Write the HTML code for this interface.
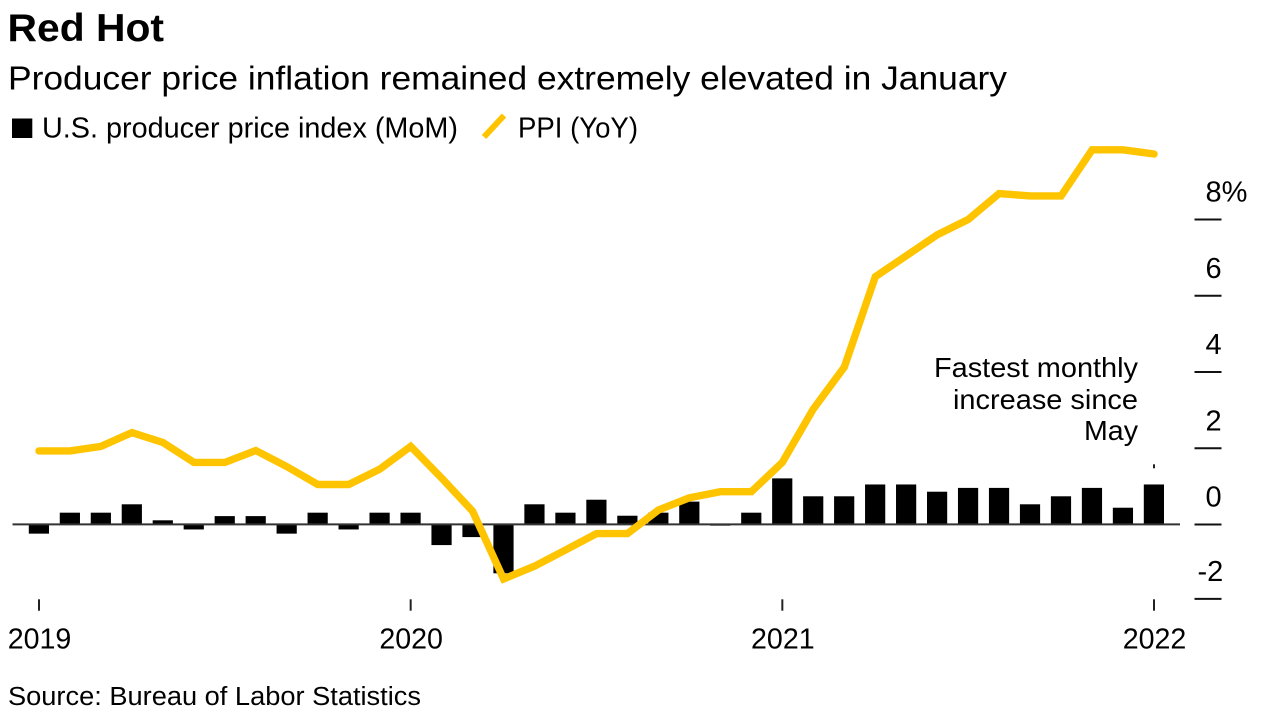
<!DOCTYPE html>
<html lang="en">
<head>
<meta charset="utf-8">
<title>Red Hot</title>
<style>
  html, body { margin: 0; padding: 0; background: #fff; }
  svg { display: block; }
  text { font-family: "Liberation Sans", Arial, sans-serif; fill: #000; }
</style>
</head>
<body>
<svg id="chart" xmlns="http://www.w3.org/2000/svg" width="1266" height="724" viewBox="0 0 1266 724">
  <text x="7.5" y="41" font-size="39" font-weight="700" textLength="156.5" lengthAdjust="spacingAndGlyphs">Red Hot</text>
  <text x="8" y="89.5" font-size="33" textLength="999" lengthAdjust="spacingAndGlyphs">Producer price inflation remained extremely elevated in January</text>
  <g>
    <rect x="12" y="118.5" width="20.3" height="19.5" fill="#000"/>
    <text x="42" y="137.5" font-size="28.5" textLength="416" lengthAdjust="spacingAndGlyphs">U.S. producer price index (MoM)</text>
    <line x1="484" y1="137" x2="504" y2="115.5" stroke="#ffc400" stroke-width="6"/>
    <text x="518" y="137.5" font-size="28.5" textLength="120" lengthAdjust="spacingAndGlyphs">PPI (YoY)</text>
  </g>
  <g id="bars"></g>
  <line x1="12.5" y1="524.4" x2="1180" y2="524.4" stroke="#333" stroke-width="2"/>
  <path id="yoy-line" fill="none" stroke="#ffc400" stroke-width="7.4" stroke-linejoin="miter" stroke-linecap="round"/>
  <g id="y-axis"></g>
  <g id="x-axis"></g>
  <g>
    <text x="1138" y="377" font-size="28" text-anchor="end" textLength="204" lengthAdjust="spacingAndGlyphs">Fastest monthly</text>
    <text x="1138" y="409" font-size="28" text-anchor="end" textLength="185" lengthAdjust="spacingAndGlyphs">increase since</text>
    <text x="1138" y="440" font-size="28" text-anchor="end" textLength="54" lengthAdjust="spacingAndGlyphs">May</text>
    <line x1="1154" y1="464.3" x2="1154" y2="468.3" stroke="#222" stroke-width="2"/>
  </g>
  <text x="8" y="705" font-size="25.5" textLength="413" lengthAdjust="spacingAndGlyphs">Source: Bureau of Labor Statistics</text>
</svg>
<script>
var momValues = [-0.24,0.31,0.31,0.53,0.11,-0.13,0.22,0.22,-0.24,0.31,-0.13,0.31,
                 0.31,-0.54,-0.33,-1.28,0.53,0.31,0.65,0.23,0.31,0.6,-0.03,0.31,
                 1.21,0.74,0.74,1.05,1.05,0.86,0.96,0.96,0.53,0.74,0.96,0.44,1.05];
var yoyValues = [1.93,1.93,2.05,2.41,2.15,1.63,1.63,1.94,1.52,1.05,1.05,1.45,
                 2.05,1.22,0.35,-1.43,-1.09,-0.67,-0.24,-0.24,0.38,0.7,0.86,0.86,
                 1.63,3.03,4.13,6.5,7.05,7.6,8.0,8.68,8.62,8.62,9.83,9.83,9.72];
var yTickValues = [-1.95,0,2,4,6,8];
var yTickLabels = ["-2","0","2","4","6","8%"];
var xTickIndexes = [0,12,24,36];
var xTickLabels = ["2019","2020","2021","2022"];

var SVG_NS = "http://www.w3.org/2000/svg";
function xScale(i) { return 39.0 + i * (1154 - 39.0) / 36; }
function yScale(v) { return 524.5 - v * 38.12; }
function make(tag, parent) {
  var el = document.createElementNS(SVG_NS, tag);
  parent.appendChild(el);
  return el;
}

var barsGroup = document.getElementById("bars");
for (var i = 0; i < momValues.length; i++) {
  var bar = make("rect", barsGroup);
  
  
  var y0 = yScale(Math.max(momValues[i], 0));
  var y1 = yScale(Math.min(momValues[i], 0));
  bar.setAttribute("x", xScale(i) - 10.2);
  bar.setAttribute("width", 20.2);
  bar.setAttribute("y", y0);
  bar.setAttribute("height", y1 - y0);
  bar.setAttribute("fill", "#000");
}

var d = "";
for (var j = 0; j < yoyValues.length; j++) {
  d += (j === 0 ? "M" : "L") + xScale(j).toFixed(1) + " " + yScale(yoyValues[j]).toFixed(1);
}
document.getElementById("yoy-line").setAttribute("d", d);

var yAxis = document.getElementById("y-axis");
for (var k = 0; k < yTickValues.length; k++) {
  var yTick = make("line", yAxis);
  
  
  var ty = yScale(yTickValues[k]);
  yTick.setAttribute("x1", 1194.5);
  yTick.setAttribute("x2", 1221.5);
  yTick.setAttribute("y1", ty);
  yTick.setAttribute("y2", ty);
  yTick.setAttribute("stroke", "#111");
  yTick.setAttribute("stroke-width", 2);
  var yLabel = make("text", yAxis);
  
  
  yLabel.setAttribute("x", yTickValues[k] < 0 ? 1197.5 : 1205.5);
  yLabel.setAttribute("y", ty - 18);
  yLabel.setAttribute("font-size", 29);
  yLabel.textContent = yTickLabels[k];
}

var xAxis = document.getElementById("x-axis");
for (var m = 0; m < xTickIndexes.length; m++) {
  var xTick = make("line", xAxis);
  
  
  var tx = xScale(xTickIndexes[m]);
  xTick.setAttribute("x1", tx);
  xTick.setAttribute("x2", tx);
  xTick.setAttribute("y1", 599.3);
  xTick.setAttribute("y2", 610.7);
  xTick.setAttribute("stroke", "#222");
  xTick.setAttribute("stroke-width", 2);
  var xLabel = make("text", xAxis);
  
  
  xLabel.setAttribute("x", tx + 0.5);
  xLabel.setAttribute("y", 648.5);
  xLabel.setAttribute("font-size", 28.6);
  xLabel.setAttribute("text-anchor", "middle");
  xLabel.textContent = xTickLabels[m];
}
</script>
</body>
</html>
